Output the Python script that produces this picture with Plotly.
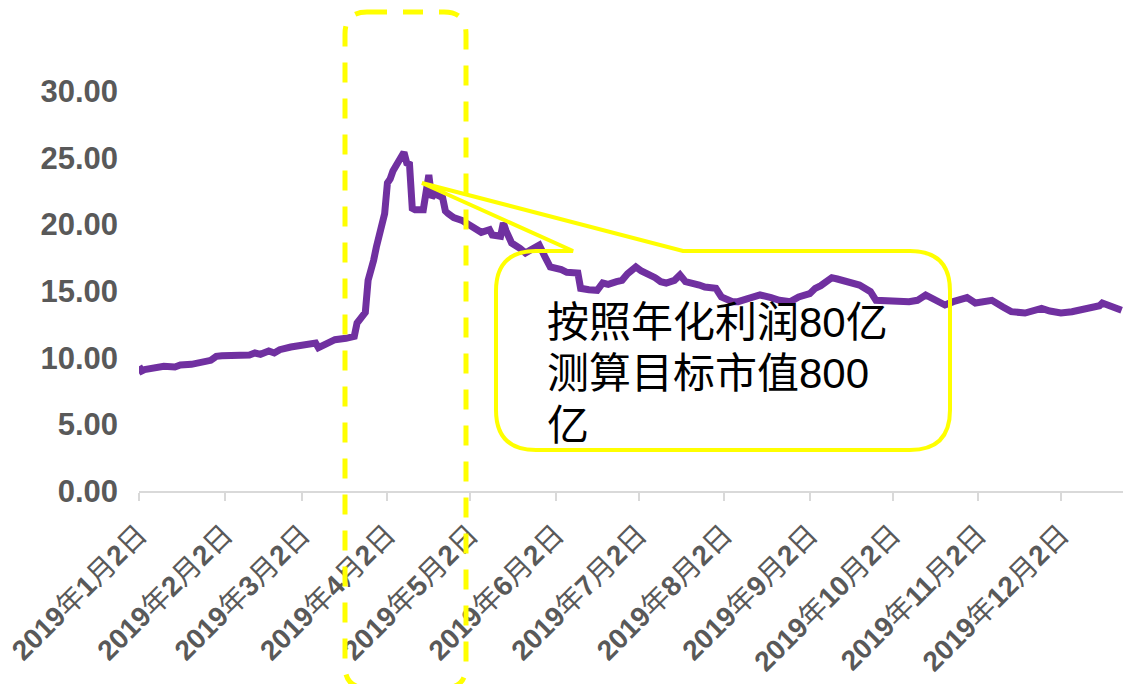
import plotly.graph_objects as go

# Daily closing price (元), 2019
dates = [
    "2019-01-02", "2019-01-03", "2019-01-04", "2019-01-08", "2019-01-11", "2019-01-15",
    "2019-01-17", "2019-01-21", "2019-01-24", "2019-01-28", "2019-01-30", "2019-02-01",
    "2019-02-11", "2019-02-13", "2019-02-15", "2019-02-18", "2019-02-20", "2019-02-22",
    "2019-02-26", "2019-03-01", "2019-03-05", "2019-03-07", "2019-03-08", "2019-03-11",
    "2019-03-12", "2019-03-14", "2019-03-18", "2019-03-20", "2019-03-21", "2019-03-22",
    "2019-03-25", "2019-03-26", "2019-03-27", "2019-03-28", "2019-03-29", "2019-04-01",
    "2019-04-02", "2019-04-03", "2019-04-04", "2019-04-08", "2019-04-09", "2019-04-10",
    "2019-04-11", "2019-04-12", "2019-04-15", "2019-04-16", "2019-04-17", "2019-04-18",
    "2019-04-19", "2019-04-22", "2019-04-23", "2019-04-24", "2019-04-26", "2019-04-29",
    "2019-05-06", "2019-05-09", "2019-05-10", "2019-05-13", "2019-05-14", "2019-05-15",
    "2019-05-17", "2019-05-20", "2019-05-22", "2019-05-24", "2019-05-27", "2019-05-29",
    "2019-05-31", "2019-06-04", "2019-06-06", "2019-06-10", "2019-06-11", "2019-06-14",
    "2019-06-17", "2019-06-19", "2019-06-21", "2019-06-24", "2019-06-26", "2019-06-28",
    "2019-07-01", "2019-07-03", "2019-07-05", "2019-07-08", "2019-07-10", "2019-07-12",
    "2019-07-15", "2019-07-17", "2019-07-19", "2019-07-22", "2019-07-24", "2019-07-26",
    "2019-07-30", "2019-08-01", "2019-08-05", "2019-08-07", "2019-08-09", "2019-08-12",
    "2019-08-15", "2019-08-19", "2019-08-22", "2019-08-26", "2019-08-29", "2019-09-02",
    "2019-09-04", "2019-09-06", "2019-09-10", "2019-09-12", "2019-09-16", "2019-09-20",
    "2019-09-24", "2019-09-26", "2019-10-08", "2019-10-11", "2019-10-14", "2019-10-17",
    "2019-10-21", "2019-10-24", "2019-10-29", "2019-11-01", "2019-11-04", "2019-11-07",
    "2019-11-11", "2019-11-14", "2019-11-19", "2019-11-22", "2019-11-25", "2019-11-28",
    "2019-12-02", "2019-12-06", "2019-12-12", "2019-12-16", "2019-12-17", "2019-12-19",
    "2019-12-24",
]
prices = [
    9.35, 9.0, 9.1, 9.2, 9.35, 9.3,
    9.45, 9.5, 9.6, 9.8, 10.1, 10.15,
    10.2, 10.35, 10.25, 10.5, 10.35, 10.6,
    10.8, 10.9, 11.1, 11.1, 10.75, 11.0,
    11.1, 11.35, 11.45, 11.55, 11.6, 12.6,
    13.4, 15.8, 16.9, 17.3, 18.3, 20.8,
    23.1, 23.4, 24.0, 25.4, 24.6, 24.5,
    21.2, 21.1, 21.1, 22.4, 23.7, 22.0,
    22.3, 22.0, 21.0, 20.8, 20.5, 20.3,
    19.4, 19.6, 19.2, 19.1, 20.1, 19.5,
    18.6, 18.2, 17.85, 18.1, 18.45, 17.6,
    16.8, 16.6, 16.4, 16.35, 15.2, 15.1,
    15.05, 15.6, 15.5, 15.7, 15.8, 16.3,
    16.8, 16.5, 16.35, 16.0, 15.7, 15.6,
    15.8, 16.2, 15.7, 15.6, 15.45, 15.3,
    15.2, 14.55, 14.2, 14.2, 14.3, 14.5,
    14.7, 14.5, 14.3, 14.2, 14.55, 14.8,
    15.2, 15.4, 16.0, 15.9, 15.7, 15.45,
    14.95, 14.3, 14.2, 14.3, 14.7, 14.4,
    13.95, 14.2, 14.5, 14.1, 14.2, 14.3,
    13.8, 13.45, 13.35, 13.5, 13.7, 13.5,
    13.35, 13.45, 13.7, 13.9, 14.1, 13.95,
    13.55,
]

# Month tick positions and labels
tick_dates = [f"2019-{m:02d}-02" for m in range(1, 13)]
tick_labels = [f"<b>2019</b>年<b>{m}</b>月<b>2</b>日" for m in range(1, 13)]
y_ticks = [0, 5, 10, 15, 20, 25, 30]

note_lines = ["按照年化利润80亿", "测算目标市值800", "亿"]

W, H = 1123, 684
L, R, T, B = 139, 0, 91, 193
PW, PH = W - L - R, H - T - B


def px(x):
    return (x - L) / PW


def py(y):
    return (H - B - y) / PH


def P(x, y):
    return f"{px(x):.5f},{py(y):.5f}"


fig = go.Figure()
fig.add_trace(go.Scatter(
    x=dates, y=prices, mode="lines",
    line=dict(color="#7030A0", width=7, shape="linear"),
    hoverinfo="skip", showlegend=False,
))

# callout box with pointer
callout = (
    f"M {P(573,251)} L {P(536,251)} Q {P(496,251)} {P(496,291)} "
    f"L {P(496,410)} Q {P(496,450)} {P(536,450)} L {P(910,450)} "
    f"Q {P(950,450)} {P(950,410)} L {P(950,291)} Q {P(950,251)} {P(910,251)} "
    f"L {P(683,251)} L {P(422,183)} Z"
)
fig.add_shape(type="path", xref="paper", yref="paper", path=callout,
              line=dict(color="#FFFF00", width=4), fillcolor="rgba(0,0,0,0)")

# dashed highlight around the surge
hl = (
    f"M {P(367,12)} L {P(444,12)} Q {P(466,12)} {P(466,34)} "
    f"L {P(466,666)} Q {P(466,688)} {P(444,688)} L {P(367,688)} "
    f"Q {P(345,688)} {P(345,666)} L {P(345,34)} Q {P(345,12)} {P(367,12)} Z"
)
fig.add_shape(type="path", xref="paper", yref="paper", path=hl,
              line=dict(color="#FFFF00", width=5, dash="20px,16px"),
              fillcolor="rgba(0,0,0,0)")

# callout text, one line per annotation for tight line spacing
for i, line in enumerate(note_lines):
    fig.add_annotation(
        xref="paper", yref="paper", x=px(545), y=py(322 + 51.5 * i),
        xanchor="left", yanchor="middle", align="left", showarrow=False,
        text=line,
        font=dict(family="Liberation Sans, Noto Sans CJK SC", size=42, color="#000000"),
    )

fig.update_layout(
    width=W, height=H,
    margin=dict(l=L, r=R, t=T, b=B, autoexpand=False),
    paper_bgcolor="white", plot_bgcolor="white",
    showlegend=False,
)
fig.update_xaxes(
    type="date", range=["2019-01-02", "2019-12-24 12:00"],
    tickmode="array", tickvals=tick_dates, ticktext=tick_labels,
    tickangle=-45, automargin=False, ticklabelstandoff=6,
    tickfont=dict(family="Liberation Sans, Noto Sans CJK SC", size=28, color="#595959"),
    showline=True, linecolor="#D9D9D9", linewidth=2,
    ticks="outside", ticklen=8, tickwidth=2, tickcolor="#D9D9D9",
    showgrid=False, zeroline=False,
)
fig.update_yaxes(
    range=[0, 30], tickmode="array", tickvals=y_ticks, tickformat=".2f",
    automargin=False, ticklabelstandoff=20,
    tickfont=dict(family="Liberation Sans", size=31, color="#595959", weight="bold"),
    showline=False, showgrid=False, zeroline=False, ticks="",
)

fig.write_html("out.html")
